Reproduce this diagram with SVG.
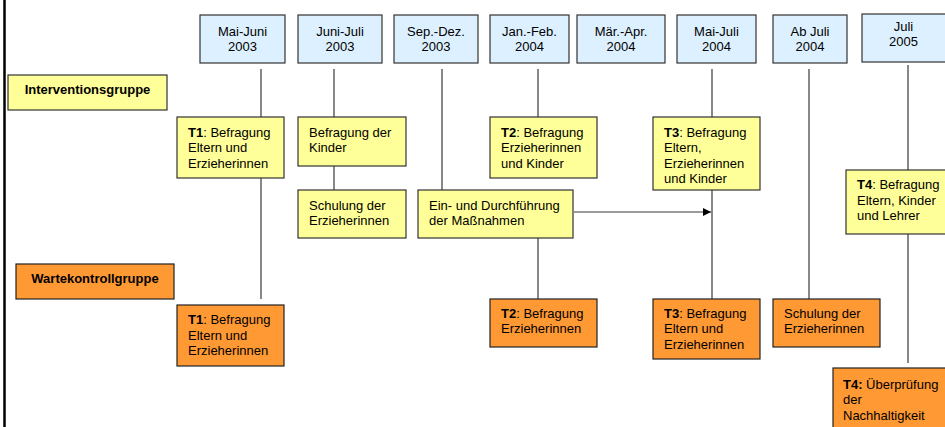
<svg xmlns="http://www.w3.org/2000/svg" width="945" height="427" viewBox="0 0 945 427">
<defs>
<style>
text{font-family:"Liberation Sans",Arial,sans-serif;font-size:13px;fill:#000}
.c{text-anchor:middle}
.b{font-weight:bold}
.hd{fill:#DDF0FF;stroke:#333;stroke-width:1.2}
.y{fill:#FFFF99;stroke:#333;stroke-width:1.2}
.o{fill:#FF9933;stroke:#222;stroke-width:1.2}
.ln{stroke:#3a3a3a;stroke-width:1.2;fill:none}
</style>
<marker id="ah" markerWidth="8" markerHeight="8" refX="8" refY="4" orient="auto" markerUnits="userSpaceOnUse">
<path d="M0,0 L8,4 L0,8 Z" fill="#000"/>
</marker>
</defs>
<rect width="945" height="427" fill="#fff"/>
<line x1="4.5" y1="0" x2="4.5" y2="427" stroke="#000" stroke-width="2.5"/>

<g id="connectors">
<line class="ln" x1="261" y1="69" x2="261" y2="117"/>
<line class="ln" x1="261" y1="178" x2="261" y2="299"/>
<line class="ln" x1="334" y1="69" x2="334" y2="117"/>
<line class="ln" x1="334" y1="166" x2="334" y2="190"/>
<line class="ln" x1="442" y1="69" x2="442" y2="190"/>
<line class="ln" x1="538" y1="69" x2="538" y2="117"/>
<line class="ln" x1="538" y1="238" x2="538" y2="299"/>
<line class="ln" x1="712" y1="69" x2="712" y2="117"/>
<line class="ln" x1="712" y1="190" x2="712" y2="299"/>
<line class="ln" x1="809" y1="69" x2="809" y2="299" stroke="#666"/>
<line class="ln" x1="908" y1="65" x2="908" y2="170"/>
<line class="ln" x1="908" y1="234" x2="908" y2="363"/>
<line class="ln" x1="574" y1="212" x2="711" y2="212" stroke="#555" marker-end="url(#ah)"/>
</g>

<g id="h1"><rect class="hd" x="200" y="15" width="85" height="48"/><text class="c" x="242.5" y="36">Mai-Juni</text><text class="c" x="242.5" y="50.5">2003</text></g>
<g id="h2"><rect class="hd" x="298" y="15" width="84" height="48"/><text class="c" x="340" y="36">Juni-Juli</text><text class="c" x="340" y="50.5">2003</text></g>
<g id="h3"><rect class="hd" x="394" y="15" width="84" height="48"/><text class="c" x="436" y="36">Sep.-Dez.</text><text class="c" x="436" y="50.5">2003</text></g>
<g id="h4"><rect class="hd" x="490" y="15" width="79" height="48"/><text class="c" x="529.5" y="36">Jan.-Feb.</text><text class="c" x="529.5" y="50.5">2004</text></g>
<g id="h5"><rect class="hd" x="577" y="15" width="88" height="48"/><text class="c" x="621" y="36">Mär.-Apr.</text><text class="c" x="621" y="50.5">2004</text></g>
<g id="h6"><rect class="hd" x="677" y="15" width="79" height="48"/><text class="c" x="716.5" y="36">Mai-Juli</text><text class="c" x="716.5" y="50.5">2004</text></g>
<g id="h7"><rect class="hd" x="773" y="15" width="74" height="48"/><text class="c" x="810" y="36">Ab Juli</text><text class="c" x="810" y="50.5">2004</text></g>
<g id="h8"><rect class="hd" x="862" y="14" width="90" height="48"/><text class="c" x="903.5" y="31">Juli</text><text class="c" x="903.5" y="46">2005</text></g>

<g id="ig"><rect class="y" x="8" y="75" width="159" height="35"/><text class="c b" x="87.5" y="93.5">Interventionsgruppe</text></g>
<g id="wk"><rect class="o" x="16" y="264" width="158" height="35"/><text class="c b" x="95" y="283">Wartekontrollgruppe</text></g>

<g id="y-t1"><rect class="y" x="177" y="117" width="107" height="61"/>
<text x="188" y="136.5"><tspan class="b">T1</tspan>: Befragung</text><text x="188" y="152">Eltern und</text><text x="188" y="167.5">Erzieherinnen</text></g>
<g id="y-kinder"><rect class="y" x="298" y="117" width="108" height="49"/>
<text x="309" y="136.5">Befragung der</text><text x="309" y="152">Kinder</text></g>
<g id="y-schulung"><rect class="y" x="298" y="190" width="108" height="48"/>
<text x="309" y="209.5">Schulung der</text><text x="309" y="225">Erzieherinnen</text></g>
<g id="y-massnahmen"><rect class="y" x="418" y="190" width="155" height="48"/>
<text x="429" y="209.5">Ein- und Durchführung</text><text x="429" y="225">der Maßnahmen</text></g>
<g id="y-t2"><rect class="y" x="490" y="117" width="107" height="61"/>
<text x="501" y="136.5"><tspan class="b">T2</tspan>: Befragung</text><text x="501" y="152">Erzieherinnen</text><text x="501" y="167.5">und Kinder</text></g>
<g id="y-t3"><rect class="y" x="653" y="117" width="107" height="73"/>
<text x="664" y="136.5"><tspan class="b">T3</tspan>: Befragung</text><text x="664" y="152">Eltern,</text><text x="664" y="167.5">Erzieherinnen</text><text x="664" y="183">und Kinder</text></g>
<g id="y-t4"><rect class="y" x="846" y="170" width="106" height="64"/>
<text x="857" y="189"><tspan class="b">T4</tspan>: Befragung</text><text x="857" y="204.5">Eltern, Kinder</text><text x="857" y="220">und Lehrer</text></g>

<g id="o-t1"><rect class="o" x="177" y="305" width="107" height="61"/>
<text x="188" y="324"><tspan class="b">T1</tspan>: Befragung</text><text x="188" y="339.5">Eltern und</text><text x="188" y="355">Erzieherinnen</text></g>
<g id="o-t2"><rect class="o" x="490" y="299" width="107" height="48"/>
<text x="501" y="317.5"><tspan class="b">T2</tspan>: Befragung</text><text x="501" y="333">Erzieherinnen</text></g>
<g id="o-t3"><rect class="o" x="653" y="299" width="107" height="60"/>
<text x="664" y="317.5"><tspan class="b">T3</tspan>: Befragung</text><text x="664" y="333">Eltern und</text><text x="664" y="348.5">Erzieherinnen</text></g>
<g id="o-schulung"><rect class="o" x="773" y="299" width="107" height="48"/>
<text x="784" y="317.5">Schulung der</text><text x="784" y="333">Erzieherinnen</text></g>
<g id="o-t4"><rect class="o" x="833" y="368" width="120" height="70"/>
<text x="843" y="388.5"><tspan class="b">T4:</tspan> Überprüfung</text><text x="843" y="404">der</text><text x="843" y="419.5">Nachhaltigkeit</text></g>
</svg>
